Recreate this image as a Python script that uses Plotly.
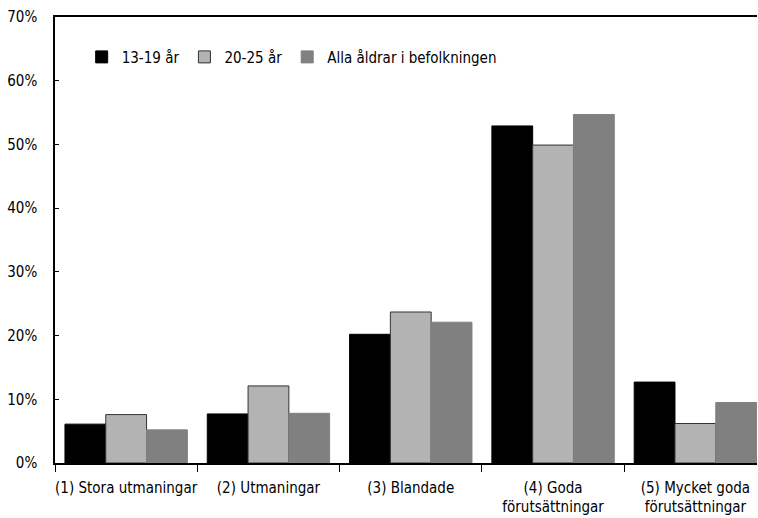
import plotly.graph_objects as go

categories = ["(1) Stora utmaningar", "(2) Utmaningar", "(3) Blandade",
              "(4) Goda<br>förutsättningar", "(5) Mycket goda<br>förutsättningar"]
series_names = ["13-19 år", "20-25 år", "Alla åldrar i befolkningen"]
v_13_19 = [0.061, 0.077, 0.202, 0.529, 0.127]
v_20_25 = [0.076, 0.121, 0.237, 0.499, 0.062]
v_alla = [0.052, 0.078, 0.221, 0.547, 0.095]
y_ticks = [0, 0.1, 0.2, 0.3, 0.4, 0.5, 0.6, 0.7]
y_tick_labels = ["0%", "10%", "20%", "30%", "40%", "50%", "60%", "70%"]

FONT = "DejaVu Sans Condensed, Liberation Sans Narrow, sans-serif"

def fnt(size=15):
    return dict(family=FONT, size=size, color="#000000")

fills = ["#000000", "#b3b3b3", "#808080"]
lines = ["#000000", "#333333", "#808080"]

fig = go.Figure()
for name, vals, fc, lc in zip(series_names, [v_13_19, v_20_25, v_alla], fills, lines):
    fig.add_trace(go.Bar(x=categories, y=vals, name=name,
                         marker=dict(color=fc, line=dict(color=lc, width=1))))

fig.update_layout(
    width=758, height=518,
    margin=dict(l=55, r=1, t=17, b=55, autoexpand=False),
    paper_bgcolor="white", plot_bgcolor="white",
    font=fnt(),
    barmode="group", bargap=0.14, bargroupgap=0,
    showlegend=True,
    legend=dict(orientation="h", x=0.038, xanchor="left", y=0.91, yanchor="middle",
                bgcolor="rgba(0,0,0,0)", font=fnt(),
                itemwidth=30, traceorder="normal"),
    xaxis=dict(type="category", range=[-0.5, 4.433], showline=True, linecolor="#000000",
               linewidth=1.5, mirror=True, ticks="outside", tickson="boundaries",
               ticklen=7, tickcolor="#000000", showgrid=False, zeroline=False,
               tickangle=0, automargin=False, ticklabelstandoff=10, tickfont=fnt()),
    xaxis2=dict(overlaying="x", range=[-0.5, 4.433], showticklabels=False,
                ticks="inside", ticklen=5, tickcolor="#000000",
                tickvals=[-0.5, 0.5, 1.5, 2.5, 3.5, 4.5], showgrid=False,
                zeroline=False, showline=False),
    yaxis=dict(range=[0, 0.7], tickvals=y_ticks, ticktext=y_tick_labels,
               showline=True, linecolor="#000000", linewidth=1.5, ticks="inside",
               ticklen=4, tickcolor="#000000", showgrid=False, zeroline=False,
               automargin=False, ticklabelstandoff=13, tickfont=fnt()),
)

fig.write_html("out.html", config={"displayModeBar": False},
               post_script="document.body.style.margin='0';")
